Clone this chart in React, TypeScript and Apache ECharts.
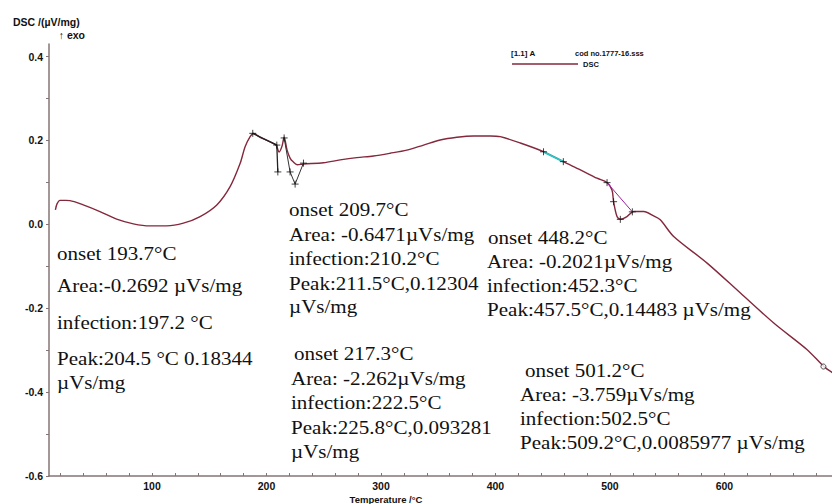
import React, { useEffect, useRef } from "react";
import * as echarts from "echarts";

const temps = [15.6, 17.0, 19.6, 24.8, 28.3, 39.9, 54.5, 69.1, 83.7, 98.3, 112.8, 127.4, 142.0, 156.6, 168.2, 177.0, 181.3, 185.7, 188.5, 190.0, 194.4, 199.7, 206.0, 208.4, 211.0, 213.6, 215.4, 218.0, 220.6, 223.3, 226.8, 232.3, 249.7, 264.3, 278.9, 293.4, 308.0, 322.6, 337.2, 351.7, 366.3, 380.9, 395.5, 404.2, 421.7, 442.0, 459.3, 474.2, 488.7, 497.5, 501.8, 503.2, 506.2, 509.1, 514.9, 520.7, 529.5, 538.2, 544.0, 555.7, 584.9, 614.0, 643.1, 672.3, 686.8, 694.4];
const dsc = [0.0345, 0.0488, 0.0571, 0.0571, 0.0567, 0.0464, 0.0305, 0.0124, 0.0012, -0.0036, -0.0036, 0.0029, 0.0186, 0.0464, 0.09, 0.1457, 0.185, 0.209, 0.2167, 0.2155, 0.2076, 0.201, 0.193, 0.189, 0.1726, 0.187, 0.208, 0.177, 0.158, 0.149, 0.142, 0.144, 0.147, 0.1536, 0.159, 0.163, 0.1695, 0.177, 0.189, 0.201, 0.2076, 0.2107, 0.2107, 0.209, 0.194, 0.1733, 0.1495, 0.13, 0.11, 0.0995, 0.082, 0.054, 0.0186, 0.0124, 0.0186, 0.0305, 0.0305, 0.0202, 0.0107, -0.029, -0.0924, -0.1638, -0.2352, -0.2988, -0.3386, -0.3536];

const guide1T = [188.0, 209.0, 209.9];
const guide1V = [0.217, 0.189, 0.125];
const guide2T = [215.4, 220.6, 225.0, 232.3];
const guide2V = [0.206, 0.125, 0.096, 0.146];
const guide3T = [442.0, 459.3];
const guide3V = [0.173, 0.1495];
const guide4T = [497.5, 519.6];
const guide4V = [0.0995, 0.0298];
const crossT = [188.0, 209.0, 209.9, 215.4, 220.6, 225.0, 232.3, 442.0, 459.3, 497.5, 503.2, 509.1, 519.6];
const crossV = [0.217, 0.189, 0.125, 0.206, 0.125, 0.096, 0.146, 0.173, 0.1495, 0.0995, 0.054, 0.0119, 0.0298];
const endMarkT = [686.5];
const endMarkV = [-0.339];

const xTickValues = [20, 40, 60, 80, 100, 120, 140, 160, 180, 200, 220, 240, 260, 280, 300, 320, 340, 360, 380, 400, 420, 440, 460, 480, 500, 520, 540, 560, 580, 600, 620, 640, 660, 680];
const xLabelValues = [100, 200, 300, 400, 500, 600];
const yTickValues = [-0.6, -0.5, -0.4, -0.3, -0.2, -0.1, 0, 0.1, 0.2, 0.3, 0.4];
const yLabelValues = [-0.6, -0.4, -0.2, 0, 0.2, 0.4];

const block1 = ["onset 193.7°C", "Area:-0.2692 µVs/mg", "infection:197.2 °C", "Peak:204.5 °C 0.18344", "µVs/mg"];
const block2 = ["onset 209.7°C", "Area: -0.6471µVs/mg", "infection:210.2°C", "Peak:211.5°C,0.12304", "µVs/mg"];
const block3 = ["onset 217.3°C", "Area: -2.262µVs/mg", "infection:222.5°C", "Peak:225.8°C,0.093281", "µVs/mg"];
const block4 = ["onset 448.2°C", "Area: -0.2021µVs/mg", "infection:452.3°C", "Peak:457.5°C,0.14483 µVs/mg"];
const block5 = ["onset 501.2°C", "Area: -3.759µVs/mg", "infection:502.5°C", "Peak:509.2°C,0.0085977 µVs/mg"];

const pairs = (a: number[], b: number[]) => a.map((t, i) => [t, b[i]]);

const CURVE = "#84283c";
const AXIS = "#857474";

function textBlock(lines: string[], xs: number[], ys: number[]) {
  return lines.map((s, i) => ({
    type: "text",
    x: xs[i],
    y: ys[i],
    scaleX: 1.17,
    style: {
      text: s,
      font: "18px 'Liberation Serif', 'Times New Roman', serif",
      fill: "#111",
      textVerticalAlign: "middle",
      textAlign: "left",
    },
    z: 10,
  }));
}

export default function App() {
  const ref = useRef<HTMLDivElement>(null);
  useEffect(() => {
    const chart = echarts.init(ref.current!, null, { renderer: "svg" });
    const crossPath = "path://M0,5L10,5M5,0L5,10";
    chart.setOption({
      animation: false,
      backgroundColor: "#fff",
      grid: { left: 49, right: 0, top: 44, bottom: 28 },
      xAxis: {
        type: "value",
        min: 10,
        max: 694,
        axisLine: { show: true, onZero: false, lineStyle: { color: AXIS, width: 1.5 } },
        axisTick: { show: true, inside: true, length: 3, customValues: xTickValues, lineStyle: { color: AXIS } },
        axisLabel: {
          customValues: xLabelValues,
          color: "#111",
          fontWeight: "bold",
          fontSize: 10.5,
          fontFamily: "'Liberation Sans', Arial, sans-serif",
          margin: 4,
        },
        splitLine: { show: false },
      },
      yAxis: {
        type: "value",
        min: -0.6,
        max: 0.43,
        axisLine: { show: true, onZero: false, lineStyle: { color: AXIS, width: 1.5 } },
        axisTick: { show: true, length: 3, customValues: yTickValues, lineStyle: { color: AXIS } },
        axisLabel: {
          customValues: yLabelValues,
          formatter: (v: number) => v.toFixed(1),
          color: "#111",
          fontWeight: "bold",
          fontSize: 10.5,
          fontFamily: "'Liberation Sans', Arial, sans-serif",
          margin: 6,
        },
        splitLine: { show: false },
      },
      series: [
        {
          type: "line",
          data: pairs(temps, dsc),
          showSymbol: false,
          smooth: 0.3,
          lineStyle: { color: CURVE, width: 1.4 },
          z: 3,
        },
        { type: "line", data: pairs(guide1T, guide1V), showSymbol: false, lineStyle: { color: "#222", width: 1.3 }, z: 4 },
        { type: "line", data: pairs(guide2T, guide2V), showSymbol: false, lineStyle: { color: "#333", width: 1 }, z: 4 },
        { type: "line", data: pairs(guide3T, guide3V), showSymbol: false, lineStyle: { color: "#2cc4c4", width: 2 }, z: 4 },
        { type: "line", data: pairs(guide4T, guide4V), showSymbol: false, lineStyle: { color: "#a020a0", width: 1 }, z: 4 },
        {
          type: "scatter",
          data: pairs(crossT, crossV),
          symbol: crossPath,
          symbolSize: 7,
          itemStyle: { color: "none", borderColor: "#111", borderWidth: 1 },
          z: 5,
        },
        {
          type: "scatter",
          data: pairs(endMarkT, endMarkV),
          symbol: "circle",
          symbolSize: 5,
          itemStyle: { color: "#fff", borderColor: "#222", borderWidth: 1 },
          z: 5,
        },
      ],
      graphic: [
        { type: "text", x: 13, y: 22, style: { text: "DSC /(µV/mg)", font: "bold 10.5px 'Liberation Sans', Arial, sans-serif", fill: "#111", textVerticalAlign: "middle" } },
        { type: "text", x: 85, y: 35, style: { text: "↑ exo", font: "bold 10.5px 'Liberation Sans', Arial, sans-serif", fill: "#111", textAlign: "right", textVerticalAlign: "middle" } },
        { type: "text", x: 386, y: 499, style: { text: "Temperature /°C", font: "bold 9.5px 'Liberation Sans', Arial, sans-serif", fill: "#111", textAlign: "center", textVerticalAlign: "middle" } },
        { type: "text", x: 511, y: 53, style: { text: "[1.1] A", font: "bold 8px 'Liberation Sans', Arial, sans-serif", fill: "#111", textVerticalAlign: "middle" } },
        { type: "text", x: 575, y: 53, style: { text: "cod no.1777-16.sss", font: "bold 7.5px 'Liberation Sans', Arial, sans-serif", fill: "#111", textVerticalAlign: "middle" } },
        { type: "line", shape: { x1: 512, y1: 64, x2: 578, y2: 64 }, style: { stroke: CURVE, lineWidth: 1.4 } },
        { type: "text", x: 583, y: 64, style: { text: "DSC", font: "bold 7.5px 'Liberation Sans', Arial, sans-serif", fill: "#111", textVerticalAlign: "middle" } },
        ...textBlock(block1, [57, 57, 57, 57, 57], [254, 286, 323, 359, 383]),
        ...textBlock(block2, [289, 289, 289, 289, 289], [210, 235, 259, 284, 307]),
        ...textBlock(block3, [294, 291, 291, 291, 291], [354, 379, 403, 428, 452]),
        ...textBlock(block4, [488, 487, 487, 487], [238, 262, 286, 310]),
        ...textBlock(block5, [525, 520, 520, 520], [371, 395, 419, 443]),
      ],
    });
    return () => chart.dispose();
  }, []);
  return <div ref={ref} style={{ width: 832, height: 504, position: "absolute", left: 0, top: 0 }} />;
}
